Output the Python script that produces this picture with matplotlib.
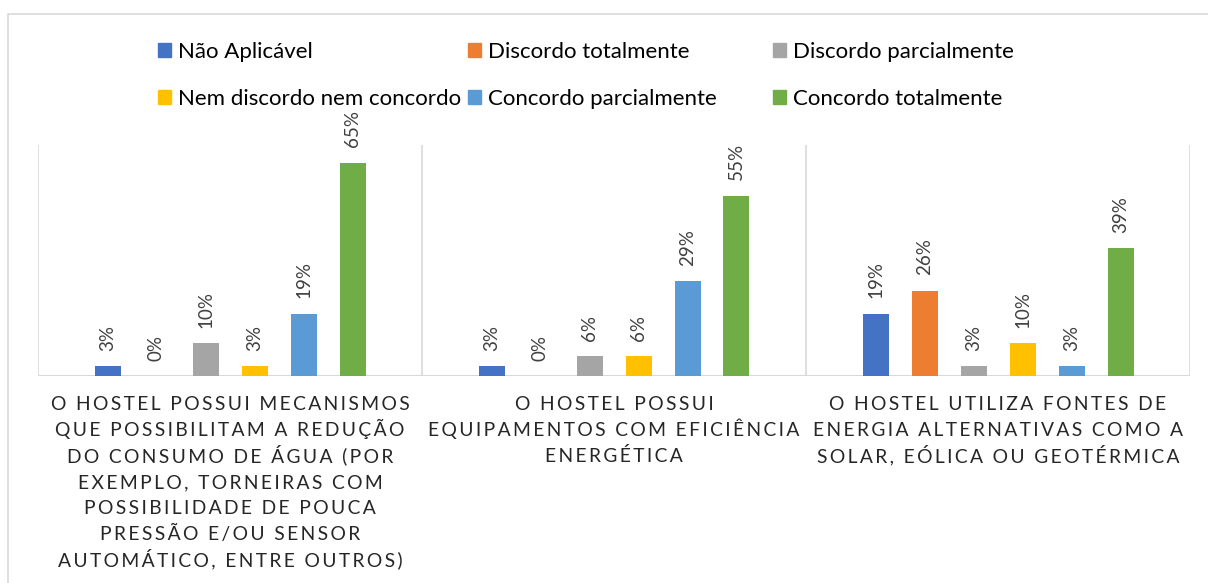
import matplotlib.pyplot as plt
from matplotlib.patches import Patch, Rectangle

plt.rcParams['font.family'] = ['Lato', 'DejaVu Sans']

categories = [
    "O HOSTEL POSSUI MECANISMOS\nQUE POSSIBILITAM A REDUÇÃO\nDO CONSUMO DE ÁGUA (POR\n"
    "EXEMPLO, TORNEIRAS COM\nPOSSIBILIDADE DE POUCA\nPRESSÃO E/OU SENSOR\n"
    "AUTOMÁTICO, ENTRE OUTROS)",
    "O HOSTEL POSSUI\nEQUIPAMENTOS COM EFICIÊNCIA\nENERGÉTICA",
    "O HOSTEL UTILIZA FONTES DE\nENERGIA ALTERNATIVAS COMO A\nSOLAR, EÓLICA OU GEOTÉRMICA",
]
series_names = [
    "Não Aplicável",
    "Discordo totalmente",
    "Discordo parcialmente",
    "Nem discordo nem concordo",
    "Concordo parcialmente",
    "Concordo totalmente",
]
# percentages per category
nao_aplicavel = [3, 3, 19]
discordo_totalmente = [0, 0, 26]
discordo_parcialmente = [10, 6, 3]
nem_discordo_nem_concordo = [3, 6, 10]
concordo_parcialmente = [19, 29, 3]
concordo_totalmente = [65, 55, 39]

series = [nao_aplicavel, discordo_totalmente, discordo_parcialmente,
          nem_discordo_nem_concordo, concordo_parcialmente, concordo_totalmente]
colors = ['#4472C4', '#ED7D31', '#A5A5A5', '#FFC000', '#5B9BD5', '#70AD47']

grid_color = '#D9D9D9'
text_color = '#262626'


def spaced(line):
    # wide letter spacing like the original axis labels
    return '\u2009'.join(line)


fig = plt.figure(figsize=(12.08, 5.83), dpi=100)
ax_h = 376 - 145
ax = fig.add_axes([38 / 1208, 1 - 376 / 583, (1190 - 38) / 1208, ax_h / 583])

slot = 49 / 384
width = 26 / 384
for k, (vals, col) in enumerate(zip(series, colors)):
    xs = [i + (k - 2.5) * slot for i in range(len(categories))]
    bars = ax.bar(xs, vals, width=width, color=col, label=series_names[k])
    ax.bar_label(bars, labels=[f'{v}%' for v in vals], rotation=90,
                 padding=11, fontsize=13.5, color='#404040')

ax.set_xlim(-0.5, 2.5)
ax.set_ylim(0, 70.4)
for s in ax.spines.values():
    s.set_visible(False)
ax.set_xticks([])
ax.set_yticks([])
ax.axhline(0, color=grid_color, lw=1.5, zorder=0)
for x in [-0.5, 0.5, 1.5, 2.5]:
    ax.axvline(x, color=grid_color, lw=1.2, zorder=0)

# category labels, one line at a time so the line pitch stays even
for i, cat in enumerate(categories):
    for n, line in enumerate(cat.split('\n')):
        y = -(410 - 376 + 26 * n) / ax_h
        ax.text(i, y, spaced(line), transform=ax.get_xaxis_transform(),
                ha='center', va='baseline', fontsize=13.9, color=text_color)

# legend: three columns placed like the original
handles = [Patch(color=c) for c in colors]
col_x = [158, 468, 773]
for j in range(3):
    fig.legend([handles[j], handles[j + 3]], [series_names[j], series_names[j + 3]],
               loc='upper left', bbox_to_anchor=(col_x[j] / 1208, 1 - 42 / 583),
               frameon=False, fontsize=16, handlelength=0.6, handleheight=0.6,
               handletextpad=0.3, labelspacing=1.21, borderaxespad=0, borderpad=0,
               labelcolor='#000000')

fig.patches.append(Rectangle((8 / 1208, -0.2), 1.2, 1.2 - 14 / 583, transform=fig.transFigure,
                             fill=False, edgecolor=grid_color, lw=1.2))

fig.savefig('out.png', dpi=100)
